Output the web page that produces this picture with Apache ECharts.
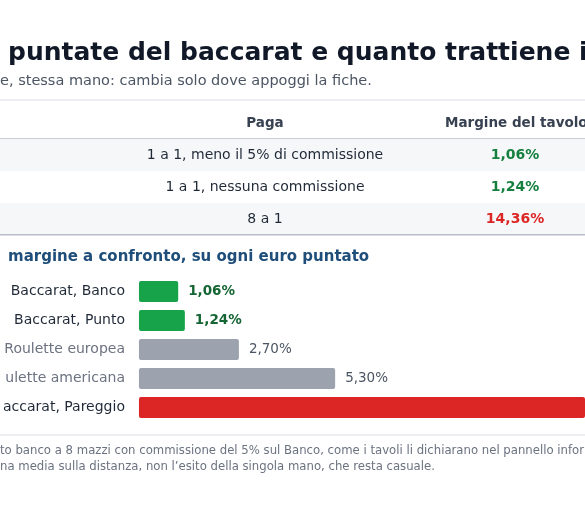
<!DOCTYPE html>
<html><head><meta charset="utf-8">
<script src="https://cdn.jsdelivr.net/npm/echarts@6/dist/echarts.min.js"></script>
<style>html,body{margin:0;padding:0;background:#fff}#c{width:585px;height:505px}</style>
</head><body><div id="c"></div>
<script>
const categories = ['Baccarat, Banco','Baccarat, Punto','Roulette europea','ulette americana','accarat, Pareggio'];
const values = [1.06, 1.24, 2.70, 5.30, 14.36];
const barColors = ['#16a34a','#16a34a','#9ca3af','#9ca3af','#dc2626'];
const labelColors = ['#166534','#166534','#4b5563','#4b5563','#166534'];
const catColors = ['#1f2937','#1f2937','#6b7280','#6b7280','#1f2937'];
const tablePay = ['1 a 1, meno il 5% di commissione','1 a 1, nessuna commissione','8 a 1'];
const tableMargin = ['1,06%','1,24%','14,36%'];
const marginColors = ['#15803d','#15803d','#dc2626'];
const FONT = 'DejaVu Sans';

const g = [];
const txt = (x,y,t,s,c,w,align) => g.push({type:'text',x,y,style:{text:t,fontFamily:FONT,fontSize:s,fill:c,fontWeight:w||'normal',align:align||'left',verticalAlign:'middle'}});
const rect = (x,y,w,h,f) => g.push({type:'rect',shape:{x,y,width:w,height:h},style:{fill:f},z:-1});
txt(8,53,'puntate del baccarat e quanto trattiene i',25,'#111827','bold');
txt(0,81,'e, stessa mano: cambia solo dove appoggi la fiche.',14.5,'#4b5563');
rect(0,99,585,2,'#eceef1');
txt(265,123,'Paga',13.5,'#374151','bold','center');
txt(445,123,'Margine del tavolo',13.5,'#374151','bold');
rect(0,138,585,1.5,'#c9ced6');
tablePay.forEach((p,i)=>{
  const y=155+i*32;
  if(i%2===0) rect(0,y-16,585,32,'#f6f7f9');
  txt(265,y,p,14,'#1f2937','normal','center');
  txt(515,y,tableMargin[i],14,marginColors[i],'bold','center');
});
rect(0,234,585,1.5,'#b8bec8');
txt(8,257,'margine a confronto, su ogni euro puntato',15,'#1e4e79','bold');
rect(0,434,585,2,'#eceef1');
txt(0,451,'to banco a 8 mazzi con commissione del 5% sul Banco, come i tavoli li dichiarano nel pannello infor',11.7,'#6b7280');
txt(0,467,'na media sulla distanza, non l\u2019esito della singola mano, che resta casuale.',11.7,'#6b7280');

const chart = echarts.init(document.getElementById('c'));
chart.setOption({
  animation:false,
  graphic:g,
  grid:{left:126,top:277,height:145,right:0,containLabel:false},
  xAxis:{type:'value',min:0,max:12.05,show:false},
  yAxis:{type:'category',inverse:true,data:categories,axisLine:{show:false},axisTick:{show:false},
    axisLabel:{margin:14,fontFamily:FONT,fontSize:14,color:(v,i)=>catColors[i]}},
  series:[{type:'bar',barWidth:21,
    data:values.map((v,i)=>({value:v,itemStyle:{color:barColors[i],borderRadius:2},
      label:{show:i<4,position:'right',distance:10,formatter:v.toFixed(2).replace('.',',')+'%',
        fontFamily:FONT,fontSize:13.5,color:labelColors[i],fontWeight:i<2?'bold':'normal'}}))}]
});
</script></body></html>
